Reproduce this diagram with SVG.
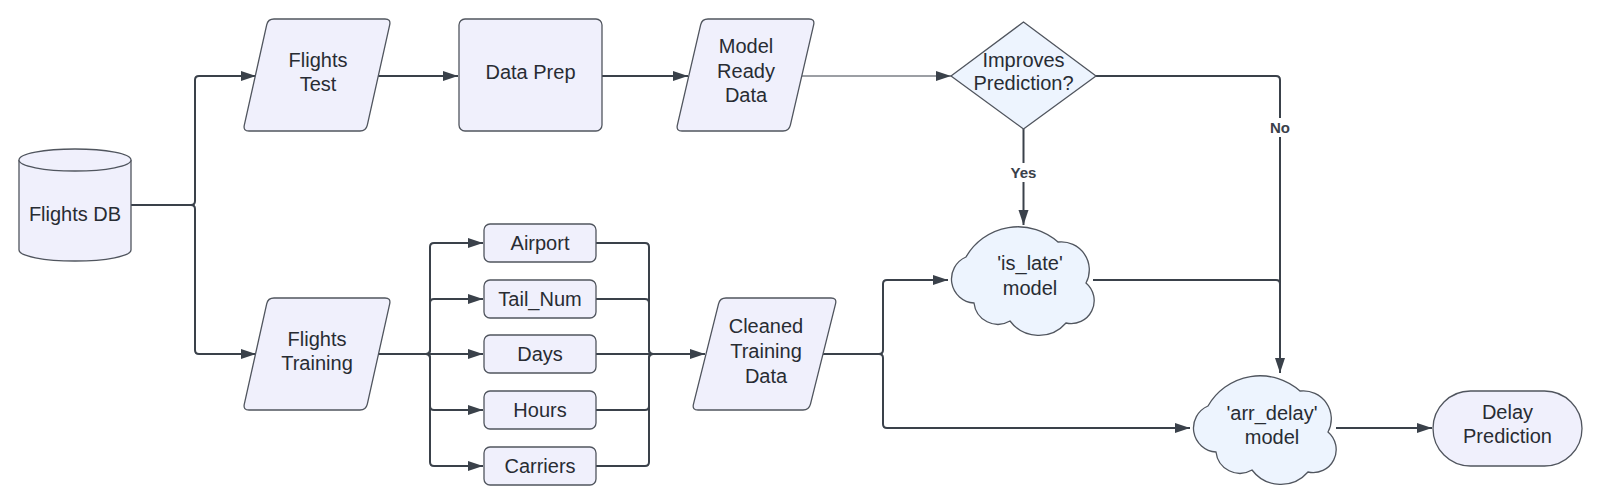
<svg xmlns="http://www.w3.org/2000/svg" xmlns:xlink="http://www.w3.org/1999/xlink" width="1600" height="503" viewBox="0 0 1600 503">
<defs>
<style>
.shape{fill:#F0F0FC;stroke:#50555e;stroke-width:1.3}
.blue{fill:#EDF4FE;stroke:#50555e;stroke-width:1.3}
.t{font-family:"Liberation Sans",Arial,sans-serif;font-size:20px;fill:#282c33;text-anchor:middle}
.lbl{font-family:"Liberation Sans",Arial,sans-serif;font-size:15px;font-weight:bold;fill:#3a414a;text-anchor:middle}
.c{fill:none;stroke:#3a414a;stroke-width:2}
.thin{fill:none;stroke:#3a414a;stroke-width:1.2}
</style>
<marker id="arr" markerUnits="userSpaceOnUse" markerWidth="16" markerHeight="12" refX="15" refY="5" orient="auto">
<path d="M0,0 L15,5 L0,10 Z" fill="#3a414a"/>
</marker>
<path id="cloud" d="M20,32 A60,60 0 0 1 112,17 A28,28 0 0 1 140,58 A23,23 0 0 1 120,98 A36,36 0 0 1 64,96 A24,24 0 0 1 28,78 A24,24 0 0 1 20,32 Z"/>
</defs>
<rect width="1600" height="503" fill="#ffffff"/>

<g id="connectors">
<path class="c" marker-end="url(#arr)" d="M131,205 H191 Q195,205 195,201 V80 Q195,76 199,76 H256"/>
<path class="c" marker-end="url(#arr)" d="M131,205 H191 Q195,205 195,209 V350 Q195,354 199,354 H256"/>
<path class="c" marker-end="url(#arr)" d="M378,76 H458"/>
<path class="c" marker-end="url(#arr)" d="M602,76 H688"/>
<path class="thin" marker-end="url(#arr)" d="M802,76 H951"/>
<path class="c" marker-end="url(#arr)" d="M378,354 H426 Q430,354 430,350 V247 Q430,243 434,243 H483"/>
<path class="c" marker-end="url(#arr)" d="M378,354 H426 Q430,354 430,350 V303 Q430,299 434,299 H483"/>
<path class="c" marker-end="url(#arr)" d="M378,354 H483"/>
<path class="c" marker-end="url(#arr)" d="M378,354 H426 Q430,354 430,358 V406 Q430,410 434,410 H483"/>
<path class="c" marker-end="url(#arr)" d="M378,354 H426 Q430,354 430,358 V462 Q430,466 434,466 H483"/>
<path class="c" d="M596,243 H645 Q649,243 649,247 V350 Q649,354 653,354 H705"/>
<path class="c" d="M596,299 H645 Q649,299 649,303 V350 Q649,354 653,354 H705"/>
<path class="c" marker-end="url(#arr)" d="M596,354 H705"/>
<path class="c" d="M596,410 H645 Q649,410 649,406 V358 Q649,354 653,354 H705"/>
<path class="c" d="M596,466 H645 Q649,466 649,462 V358 Q649,354 653,354 H705"/>
<path class="c" marker-end="url(#arr)" d="M823,354 H879 Q883,354 883,350 V284 Q883,280 887,280 H948"/>
<path class="c" marker-end="url(#arr)" d="M823,354 H879 Q883,354 883,358 V424 Q883,428 887,428 H1190"/>
<path class="c" marker-end="url(#arr)" d="M1023.5,129 V225"/>
<path class="c" marker-end="url(#arr)" d="M1096,76 H1276 Q1280,76 1280,80 V373"/>
<path class="c" d="M1093,280 H1276 Q1280,280 1280,284 V373"/>
<path class="c" marker-end="url(#arr)" d="M1336,428 H1432"/>
<rect x="1006" y="163" width="35" height="19" fill="#ffffff"/>
<text class="lbl" x="1023.5" y="178">Yes</text>
<rect x="1267" y="118" width="27" height="19" fill="#ffffff"/>
<text class="lbl" x="1280" y="133">No</text>
</g>

<g id="flights-db">
<path class="shape" d="M19,160 A56,11 0 0 1 131,160 V250 A56,11 0 0 1 19,250 Z"/>
<path class="shape" fill="none" d="M19,160 A56,11 0 0 0 131,160"/>
<text class="t" x="75" y="221">Flights DB</text>
</g>

<g id="flights-test">
<path class="shape" d="M274,19 H385 Q391,19 389.69,24.86 L367.31,125.14 Q366,131 360,131 H249 Q243,131 244.31,125.14 L266.69,24.86 Q268,19 274,19 Z"/>
<text class="t" x="318" y="67">Flights</text>
<text class="t" x="318" y="91">Test</text>
</g>

<g id="flights-training">
<path class="shape" d="M274,298 H385 Q391,298 389.69,303.86 L367.31,404.14 Q366,410 360,410 H249 Q243,410 244.31,404.14 L266.69,303.86 Q268,298 274,298 Z"/>
<text class="t" x="317" y="346">Flights</text>
<text class="t" x="317" y="370">Training</text>
</g>

<g id="data-prep">
<rect class="shape" x="459" y="19" width="143" height="112" rx="6"/>
<text class="t" x="530.5" y="79">Data Prep</text>
</g>

<g id="model-ready-data">
<path class="shape" d="M708,19 H809 Q815,19 813.64,24.84 L790.36,125.16 Q789,131 783,131 H682 Q676,131 677.36,125.16 L700.64,24.84 Q702,19 708,19 Z"/>
<text class="t" x="746" y="53">Model</text>
<text class="t" x="746" y="78">Ready</text>
<text class="t" x="746" y="102">Data</text>
</g>

<g id="improves-prediction">
<polygon class="blue" stroke-linejoin="round" points="951,76 1023.5,22 1096,76 1023.5,129"/>
<text class="t" x="1023.5" y="67">Improves</text>
<text class="t" x="1023.5" y="90">Prediction?</text>
</g>

<g id="airport">
<rect class="shape" x="484" y="224" width="112" height="38" rx="6"/>
<text class="t" x="540" y="250">Airport</text>
</g>
<g id="tail-num">
<rect class="shape" x="484" y="280" width="112" height="38" rx="6"/>
<text class="t" x="540" y="306">Tail_Num</text>
</g>
<g id="days">
<rect class="shape" x="484" y="335" width="112" height="38" rx="6"/>
<text class="t" x="540" y="361">Days</text>
</g>
<g id="hours">
<rect class="shape" x="484" y="391" width="112" height="38" rx="6"/>
<text class="t" x="540" y="417">Hours</text>
</g>
<g id="carriers">
<rect class="shape" x="484" y="447" width="112" height="38" rx="6"/>
<text class="t" x="540" y="473">Carriers</text>
</g>

<g id="cleaned-training-data">
<path class="shape" d="M726,298 H831 Q837,298 835.54,303.82 L810.46,404.18 Q809,410 803,410 H698 Q692,410 693.46,404.18 L718.54,303.82 Q720,298 726,298 Z"/>
<text class="t" x="766" y="333">Cleaned</text>
<text class="t" x="766" y="358">Training</text>
<text class="t" x="766" y="383">Data</text>
</g>

<g id="is-late-model">
<use xlink:href="#cloud" class="blue" transform="translate(946,225)"/>
<text class="t" x="1030" y="270">'is_late'</text>
<text class="t" x="1030" y="295">model</text>
</g>

<g id="arr-delay-model">
<use xlink:href="#cloud" class="blue" transform="translate(1188,374)"/>
<text class="t" x="1272" y="420">'arr_delay'</text>
<text class="t" x="1272" y="444">model</text>
</g>

<g id="delay-prediction">
<rect class="shape" x="1433" y="391" width="149" height="75" rx="37.5"/>
<text class="t" x="1507.5" y="419">Delay</text>
<text class="t" x="1507.5" y="443">Prediction</text>
</g>
</svg>
